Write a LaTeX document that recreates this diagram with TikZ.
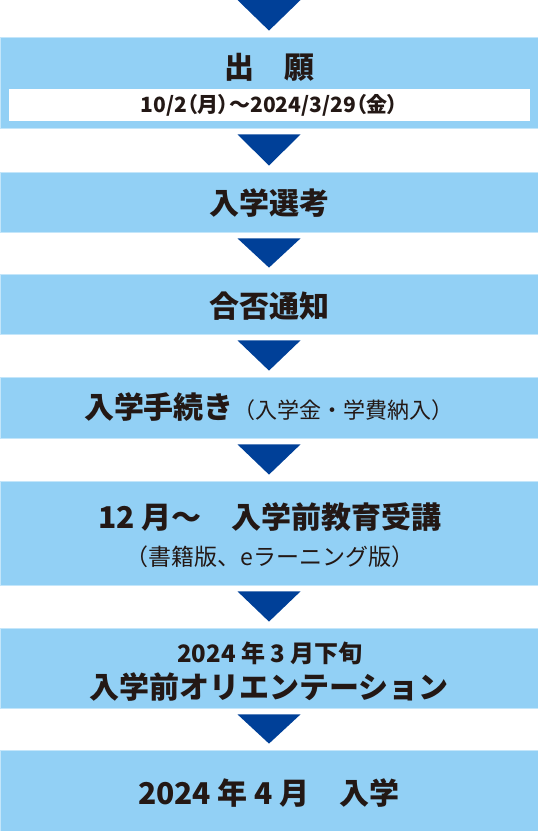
\documentclass[tikz,border=0pt]{standalone}
\usepackage{fontspec}
\setmainfont{Noto Sans CJK JP}
\usepackage{xcolor}
\usepackage{tikz}
\definecolor{flowblue}{RGB}{146,208,245}
\definecolor{flowedge}{RGB}{196,230,250}
\definecolor{arrowblue}{RGB}{0,64,152}
\definecolor{inkblack}{RGB}{35,24,21}

\begin{document}
\begin{tikzpicture}[x=1pt,y=-1pt,
  flowbox/.style={fill=flowblue, draw=flowedge, line width=0.8pt, inner sep=0pt, minimum width=538pt},
  bigtext/.style={text=inkblack, inner sep=0pt, font=\fontsize{30}{35}\selectfont\bfseries},
  midtext/.style={text=inkblack, inner sep=0pt, font=\fontsize{24}{28}\selectfont\bfseries},
  smalltext/.style={text=inkblack, inner sep=0pt, font=\fontsize{23}{27}\selectfont}]
\useasboundingbox (0,0) rectangle (538,831);

% Seven step boxes
\node[flowbox, minimum height=91pt] (b1) at (269,82.5) {};
\node[flowbox, minimum height=60pt] (b2) at (269,202) {};
\node[flowbox, minimum height=60pt] (b3) at (269,304) {};
\node[flowbox, minimum height=61pt] (b4) at (269,407.5) {};
\node[flowbox, minimum height=104pt] (b5) at (269,533) {};
\node[flowbox, minimum height=80pt] (b6) at (269,668) {};
\node[flowbox, minimum height=81pt] (b7) at (269,790.5) {};

% Texts
\node[bigtext] (t1) at (269,67) {出　願};
\node[fill=white, minimum width=521pt, minimum height=32pt, inner sep=0pt, text=inkblack,
  font=\fontsize{21}{25}\selectfont\bfseries\addfontfeature{RawFeature=+palt}] (t1date) at (269.5,105)
  {10/2（月）～2024/3/29（金）};
\node[bigtext] (t2) at (269,203) {入学選考};
\node[bigtext] (t3) at (269,306) {合否通知};
\node[bigtext] (t4) at (269,407) {入学手続き{\fontsize{22}{26}\selectfont\mdseries（入学金・学費納入）}};
\node[bigtext] (t5a) at (270,517) {12 月～　入学前教育受講};
\node[smalltext] (t5b) at (270,557) {（書籍版、eラーニング版）};
\node[midtext] (t6a) at (270,653) {2024 年 3 月下旬};
\node[bigtext] (t6b) at (269,687) {入学前オリエンテーション};
\node[bigtext] (t7) at (269,793) {2024 年 4 月　入学};

% Arrows between the boxes
\coordinate (top) at (269,0);
\fill[arrowblue] ([xshift=-31.5pt]top) -- ([xshift=31.5pt]top) -- ([yshift=6pt]b1.north) -- cycle;
\foreach \a/\b in {b1/b2,b2/b3,b3/b4,b4/b5,b5/b6,b6/b7}
  \fill[arrowblue] ([xshift=-31.5pt,yshift=-6pt]\a.south) -- ([xshift=31.5pt,yshift=-6pt]\a.south)
    -- ([yshift=6pt]\b.north) -- cycle;
\end{tikzpicture}
\end{document}
